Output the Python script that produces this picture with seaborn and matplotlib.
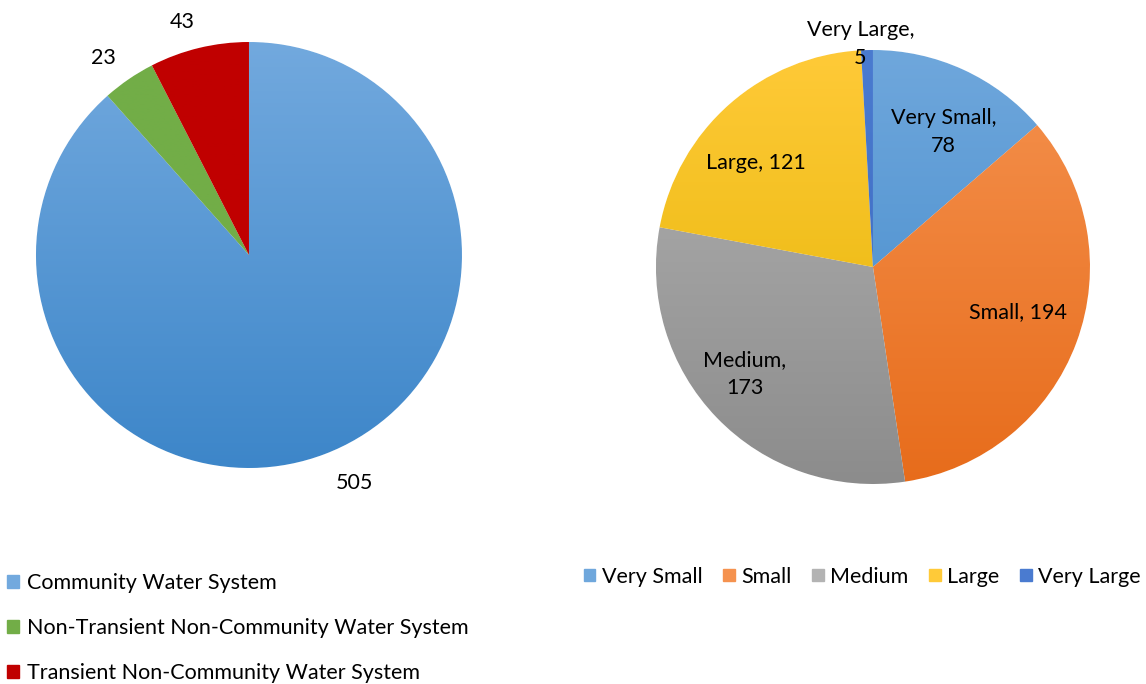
import matplotlib
matplotlib.use("Agg")
import matplotlib.pyplot as plt
import matplotlib.patches as mpatches
from matplotlib.colors import LinearSegmentedColormap
import numpy as np
import seaborn as sns

# data
system_types = ["Community Water System",
                "Non-Transient Non-Community Water System",
                "Transient Non-Community Water System"]
system_counts = [505, 23, 43]

size_classes = ["Very Small", "Small", "Medium", "Large", "Very Large"]
size_counts = [78, 194, 173, 121, 5]

# (top colour, bottom colour) for the Excel-like vertical gradient
left_colors = [("#72a9de", "#3d86c9"), ("#72ad47", "#72ad47"), ("#c00000", "#c00000")]
right_colors = [("#6fa7dc", "#3f88ca"), ("#f5924f", "#e76c1b"),
                ("#b3b3b3", "#8c8c8c"), ("#ffca38", "#e2b300"),
                ("#4a7bd0", "#3a66bd")]

sns.set_theme(style="white")
plt.rcParams["font.family"] = ["Lato", "DejaVu Sans"]
plt.rcParams["text.color"] = "black"
FS = 15.5

fig = plt.figure(figsize=(11.46, 6.84), dpi=100)
ax1 = fig.add_axes([0.0314, 0.3158, 0.3717, 0.6228])
ax2 = fig.add_axes([0.5724, 0.2924, 0.3787, 0.6345])


def gradient_pie(ax, values, colors):
    wedges, _ = ax.pie(values, startangle=90, counterclock=False,
                       radius=1, colors=[c[1] for c in colors])
    yy = np.linspace(1, 0, 256).reshape(-1, 1)
    for w, (top, bot) in zip(wedges, colors):
        cmap = LinearSegmentedColormap.from_list("g", [bot, top])
        im = ax.imshow(yy, cmap=cmap, extent=[-1, 1, -1, 1], aspect="auto",
                       vmin=0, vmax=1, zorder=w.get_zorder() + 0.1)
        im.set_clip_path(w)
    ax.set_xlim(-1, 1)
    ax.set_ylim(-1, 1)
    ax.set_aspect("equal")
    ax.axis("off")
    return wedges


w1 = gradient_pie(ax1, system_counts, left_colors)
# label angle tweak and radius per slice (Excel best-fit placement)
left_label_pos = [(4, 1.18), (2, 1.15), (2.5, 1.14)]
for w, v, (da, r) in zip(w1, system_counts, left_label_pos):
    mid = np.deg2rad((w.theta1 + w.theta2) / 2 + da)
    ax1.text(r * np.cos(mid), r * np.sin(mid), str(v), ha="center",
             va="center", fontsize=FS, clip_on=False)

w2 = gradient_pie(ax2, size_counts, right_colors)
right_label_text = ["Very Small,\n78", "Small, 194", "Medium,\n173",
                    "Large, 121", "Very Large,\n5"]
right_label_pos = [(-3, 0.70), (3, 0.70), (-4, 0.77), (7, 0.72), (2, 0.92)]
for w, t, (da, r) in zip(w2, right_label_text, right_label_pos):
    mid = np.deg2rad((w.theta1 + w.theta2) / 2 + da)
    va = "bottom" if t.startswith("Very Large") else "center"
    ax2.text(r * np.cos(mid), r * np.sin(mid), t, ha="center", va=va,
             fontsize=FS, linespacing=1.5, clip_on=False)

h1 = [mpatches.Patch(color=c[0]) for c in left_colors]
fig.legend(h1, system_types, loc="upper left", bbox_to_anchor=(-0.001, 0.175),
           frameon=False, fontsize=FS, handlelength=0.55, handleheight=0.55,
           handletextpad=0.35, labelspacing=1.17, borderaxespad=0)

h2 = [mpatches.Patch(color=c[0]) for c in right_colors]
fig.legend(h2, size_classes, loc="center right", bbox_to_anchor=(1.003, 0.157),
           frameon=False, fontsize=FS, ncol=5, handlelength=0.55,
           handleheight=0.55, handletextpad=0.3, columnspacing=0.95,
           borderaxespad=0)

fig.savefig("out.png", dpi=100)
